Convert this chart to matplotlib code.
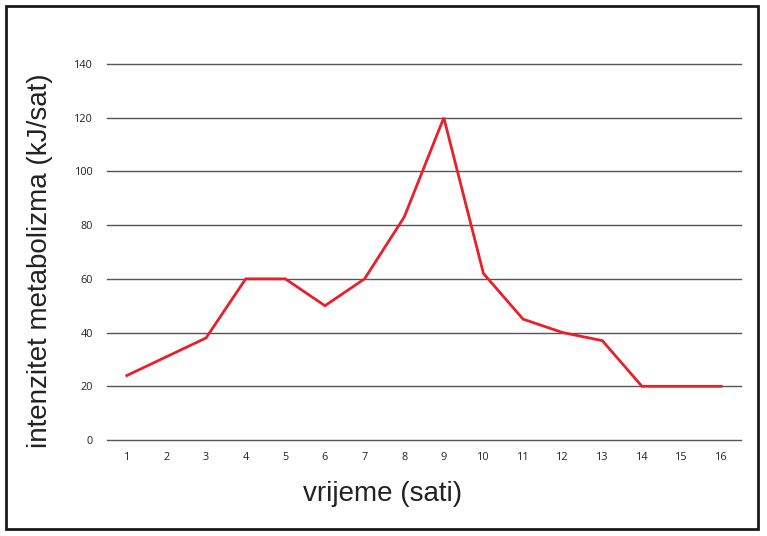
import matplotlib
matplotlib.use("Agg")
import matplotlib.pyplot as plt
from matplotlib.patches import Rectangle

hours = list(range(1, 17))
values = [24, 31, 38, 60, 60, 50, 60, 83, 120, 62, 45, 40, 37, 20, 20, 20]
yticks = [0, 20, 40, 60, 80, 100, 120, 140]

W, H = 767, 536
fig = plt.figure(figsize=(W / 100, H / 100), dpi=100)
ax = fig.add_axes([107 / W, (H - 440) / H, (741 - 107) / W, (440 - 64) / H])

ax.plot(hours, values, color="#e8202a", lw=2.0, solid_joinstyle="miter", zorder=3)
ax.set_xlim(0.5, 16.5)
ax.set_ylim(0, 140)
ax.set_yticks(yticks)
ax.set_xticks(hours)
for y in yticks:
    ax.axhline(y, color="#555555", lw=1.0, zorder=1, clip_on=False)
for s in ax.spines.values():
    s.set_visible(False)
ax.tick_params(axis="both", length=0, labelsize=7.8, colors="#222222")
ax.tick_params(axis="y", pad=10)
ax.tick_params(axis="x", pad=9)
for lab in ax.get_xticklabels() + ax.get_yticklabels():
    lab.set_family("Open Sans")

fig.text(383 / W, 1 - 494 / H, "vrijeme (sati)", ha="center", va="center",
         fontsize=20, family="Liberation Sans", color="#222222")
fig.text(40 / W, 1 - 261 / H, "intenzitet metabolizma (kJ/sat)", ha="center", va="center",
         rotation=90, fontsize=20, family="Liberation Sans", color="#222222")

fig.patches.append(Rectangle((6 / W, 1 - 529 / H), (758 - 6) / W, (529 - 6) / H,
                             transform=fig.transFigure, fill=False, lw=2.0,
                             edgecolor="#1a1a1a"))

fig.savefig("out.png", dpi=100)
